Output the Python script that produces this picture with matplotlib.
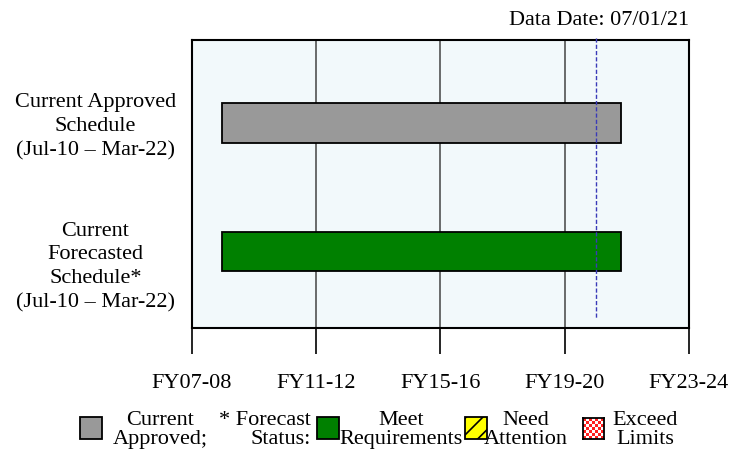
from datetime import date
import numpy as np
import matplotlib.pyplot as plt
import matplotlib.dates as mdates
from matplotlib.patches import Rectangle

plt.rcParams['font.family'] = ['Liberation Serif', 'DejaVu Serif']

# schedule rows (top to bottom)
rows = ["Current Approved\nSchedule\n(Jul-10 \u2013 Mar-22)",
        "Current\nForecasted\nSchedule*\n(Jul-10 \u2013 Mar-22)"]
starts = [date(2010, 7, 1), date(2010, 7, 1)]
ends = [date(2022, 3, 31), date(2022, 3, 31)]
bar_colors = ["#999999", "#008000"]
data_date = date(2021, 7, 1)
tick_labels = ["FY07-08", "FY11-12", "FY15-16", "FY19-20", "FY23-24"]
x_range = (date(2009, 8, 15), date(2024, 3, 31))

FS = 16

fig = plt.figure(figsize=(7.35, 4.5), dpi=100)
ax = fig.add_axes([0.2612, 0.2711, 0.9374 - 0.2612, 0.9111 - 0.2711])
ax.set_facecolor("#f2f9fb")

ypos = np.arange(len(rows))[::-1]
s = mdates.date2num(starts)
e = mdates.date2num(ends)
ax.barh(ypos, e - s, left=s, height=0.31, color=bar_colors,
        edgecolor="black", linewidth=1.3, zorder=3)

lo, hi = mdates.date2num(x_range)
ax.set_xlim(lo, hi)
ax.set_ylim(-0.595, 1.646)
ticks = np.linspace(lo, hi, len(tick_labels))
ax.set_xticks(ticks)
ax.set_xticklabels(tick_labels, fontsize=FS)
ax.tick_params(axis="x", length=19, width=1.2, pad=14, direction="out")
for t in ticks[1:-1]:
    ax.axvline(t, color="#444444", linewidth=1.1, zorder=1)

# row labels hang from just above each bar
ax.set_yticks([])
for y, lab in zip(ypos, rows):
    ypix = ax.transData.transform((lo, y))[1]
    fig.text(0.13, (ypix + 30) / 450, lab,
             ha="center", va="top", fontsize=FS, linespacing=1.35)

for sp in ax.spines.values():
    sp.set_linewidth(1.5)

dd = mdates.date2num(data_date)
ax.plot([dd, dd], [1.66, -0.52], color="#3a3ab8", linestyle=(0, (3, 1.5)),
        linewidth=1, clip_on=False, zorder=4)
fig.text(0.9374, 0.955, "Data Date: 07/01/21", ha="right", va="center",
         fontsize=FS)

# status key along the bottom
def key_box(x, **kw):
    fig.patches.append(Rectangle((x, 0.024), 22 / 735, 22 / 450,
                                 transform=fig.transFigure,
                                 edgecolor="black", linewidth=1.3, **kw))

ky = 0.045
ls = 1.03
key_box(80 / 735, facecolor="#999999")
fig.text(160 / 735, ky, "Current\nApproved;", ha="center", va="center",
         fontsize=FS, linespacing=ls)
fig.text(311 / 735, ky, "* Forecast\nStatus:", ha="right", va="center",
         fontsize=FS, linespacing=ls, multialignment="right")
key_box(317 / 735, facecolor="#008000")
fig.text(401 / 735, ky, "Meet\nRequirements", ha="center", va="center",
         fontsize=FS, linespacing=ls)
plt.rcParams['hatch.linewidth'] = 1.2
key_box(465 / 735, facecolor="#ffff00", hatch="//")
fig.text(526 / 735, ky, "Need\nAttention", ha="center", va="center",
         fontsize=FS, linespacing=ls)
cax = fig.add_axes([583 / 735, 0.024, 21 / 735, 21 / 450])
checker = np.indices((7, 7)).sum(axis=0) % 2
cax.imshow(checker, cmap=plt.matplotlib.colors.ListedColormap(["#ff2020", "white"]),
           interpolation="nearest", aspect="auto")
cax.set_xticks([])
cax.set_yticks([])
for sp in cax.spines.values():
    sp.set_linewidth(1.3)
fig.text(645 / 735, ky, "Exceed\nLimits", ha="center", va="center",
         fontsize=FS, linespacing=ls)

fig.savefig("out.png", dpi=100)
